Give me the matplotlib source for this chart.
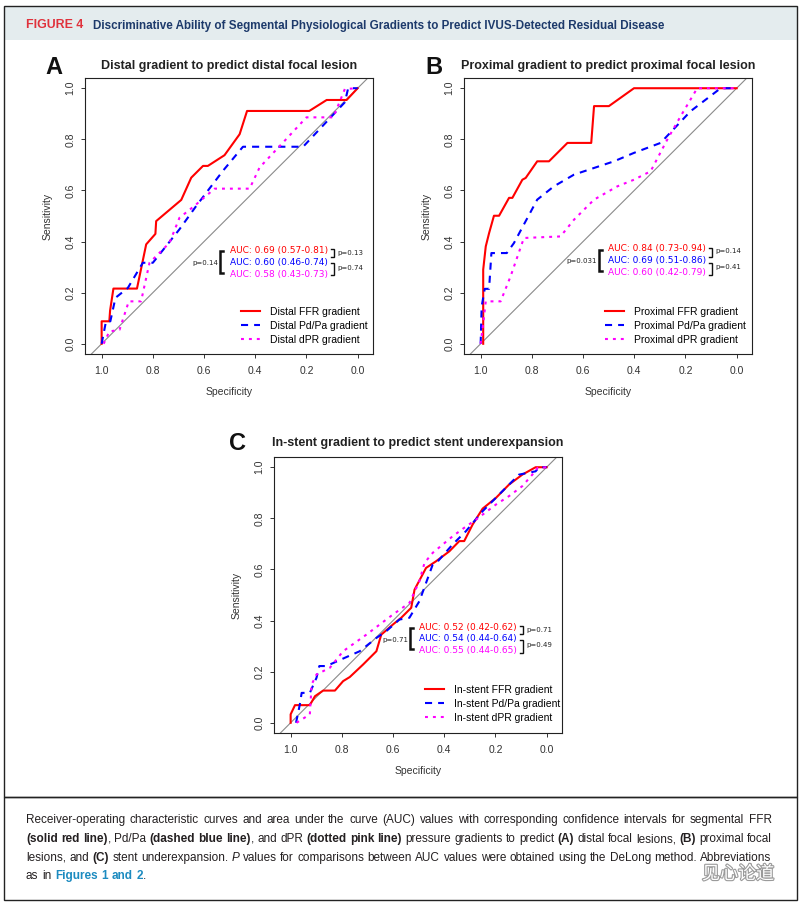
import matplotlib
matplotlib.use("Agg")
import matplotlib.pyplot as plt
from matplotlib.lines import Line2D
from matplotlib.patches import Rectangle
from matplotlib import font_manager
import matplotlib.patheffects as pe

plt.rcParams["font.family"] = ["Liberation Sans", "DejaVu Sans"]

W, H = 803, 905

# ---- data ----
# panel A: distal gradient -> distal focal lesion
a_ffr_spec = [1.0, 1.0, 0.970, 0.967, 0.954, 0.862, 0.826, 0.79, 0.787, 0.689, 0.65, 0.604, 0.585, 0.52, 0.461, 0.432, 0.189, 0.121, 0.043, 0.0]
a_ffr_sens = [0.0, 0.088, 0.088, 0.13, 0.216, 0.216, 0.389, 0.43, 0.48, 0.563, 0.65, 0.696, 0.696, 0.738, 0.82, 0.911, 0.911, 0.954, 0.954, 1.0]
a_pdpa_spec = [1.0, 0.983, 0.966, 0.946, 0.898, 0.839, 0.80, 0.696, 0.63, 0.526, 0.448, 0.213, 0.05, 0.037, 0.0]
a_pdpa_sens = [0.0, 0.088, 0.088, 0.18, 0.218, 0.317, 0.317, 0.448, 0.54, 0.677, 0.771, 0.771, 0.945, 1.0, 1.0]
a_dpr_spec = [0.992, 0.97, 0.93, 0.894, 0.846, 0.813, 0.735, 0.696, 0.637, 0.559, 0.422, 0.383, 0.291, 0.2, 0.095, 0.05, 0.0]
a_dpr_sens = [0.0, 0.048, 0.055, 0.166, 0.166, 0.317, 0.395, 0.493, 0.54, 0.607, 0.607, 0.69, 0.788, 0.886, 0.886, 0.997, 1.0]

# panel B: proximal gradient -> proximal focal lesion
b_ffr_spec = [0.99, 0.99, 0.98, 0.967, 0.948, 0.928, 0.889, 0.876, 0.837, 0.824, 0.779, 0.733, 0.661, 0.568, 0.557, 0.499, 0.401, 0.0]
b_ffr_sens = [0.0, 0.29, 0.381, 0.433, 0.501, 0.501, 0.571, 0.571, 0.642, 0.649, 0.714, 0.714, 0.786, 0.786, 0.93, 0.93, 1.0, 1.0]
b_pdpa_spec = [1.0, 0.996, 0.984, 0.967, 0.958, 0.898, 0.87, 0.779, 0.714, 0.635, 0.479, 0.401, 0.297, 0.18, 0.0625, 0.0]
b_pdpa_sens = [0.0, 0.146, 0.215, 0.215, 0.355, 0.355, 0.394, 0.564, 0.616, 0.662, 0.714, 0.747, 0.786, 0.91, 1.0, 1.0]
b_dpr_spec = [1.0, 0.99, 0.98, 0.922, 0.883, 0.831, 0.688, 0.635, 0.557, 0.466, 0.401, 0.336, 0.271, 0.219, 0.154, 0.0]
b_dpr_sens = [0.0, 0.08, 0.166, 0.166, 0.264, 0.414, 0.42, 0.486, 0.564, 0.616, 0.642, 0.675, 0.799, 0.89, 1.0, 1.0]

# panel C: in-stent gradient -> stent underexpansion
c_ffr_spec = [1.0, 1.0, 0.983, 0.925, 0.905, 0.873, 0.827, 0.795, 0.769, 0.717, 0.665, 0.646, 0.6, 0.568, 0.529, 0.516, 0.471, 0.432, 0.38, 0.341, 0.322, 0.289, 0.25, 0.198, 0.147, 0.095, 0.043, 0.0]
c_ffr_sens = [0.0, 0.033, 0.069, 0.069, 0.104, 0.126, 0.126, 0.163, 0.179, 0.228, 0.28, 0.345, 0.385, 0.411, 0.45, 0.521, 0.606, 0.632, 0.671, 0.711, 0.711, 0.776, 0.838, 0.88, 0.932, 0.971, 1.0, 1.0]
c_pdpa_spec = [0.979, 0.964, 0.957, 0.925, 0.899, 0.888, 0.86, 0.789, 0.73, 0.665, 0.626, 0.575, 0.536, 0.497, 0.445, 0.425, 0.367, 0.315, 0.25, 0.16, 0.108, 0.043, 0.03, 0.0]
c_pdpa_sens = [0.0, 0.072, 0.117, 0.117, 0.176, 0.222, 0.222, 0.254, 0.28, 0.332, 0.359, 0.404, 0.411, 0.476, 0.619, 0.632, 0.698, 0.75, 0.828, 0.919, 0.971, 0.984, 1.0, 1.0]
c_dpr_spec = [0.977, 0.925, 0.918, 0.899, 0.847, 0.795, 0.704, 0.6, 0.536, 0.497, 0.477, 0.445, 0.367, 0.322, 0.276, 0.198, 0.147, 0.095, 0.056, 0.036, 0.0]
c_dpr_sens = [0.0, 0.033, 0.15, 0.189, 0.215, 0.28, 0.345, 0.424, 0.469, 0.554, 0.626, 0.665, 0.73, 0.763, 0.795, 0.854, 0.887, 0.926, 0.971, 0.997, 1.0]

a_labels = ["Distal FFR gradient", "Distal Pd/Pa gradient", "Distal dPR gradient"]
b_labels = ["Proximal FFR gradient", "Proximal Pd/Pa gradient", "Proximal dPR gradient"]
c_labels = ["In-stent FFR gradient", "In-stent Pd/Pa gradient", "In-stent dPR gradient"]

a_auc = ["AUC: 0.69 (0.57-0.81)", "AUC: 0.60 (0.46-0.74)", "AUC: 0.58 (0.43-0.73)"]
b_auc = ["AUC: 0.84 (0.73-0.94)", "AUC: 0.69 (0.51-0.86)", "AUC: 0.60 (0.42-0.79)"]
c_auc = ["AUC: 0.52 (0.42-0.62)", "AUC: 0.54 (0.44-0.64)", "AUC: 0.55 (0.44-0.65)"]
# p values: FFR vs dPR (outer), FFR vs Pd/Pa, Pd/Pa vs dPR
a_p = ["p=0.14", "p=0.13", "p=0.74"]
b_p = ["p=0.031", "p=0.14", "p=0.41"]
c_p = ["p=0.71", "p=0.71", "p=0.49"]

ticks = [1.0, 0.8, 0.6, 0.4, 0.2, 0.0]
tick_labels = ["1.0", "0.8", "0.6", "0.4", "0.2", "0.0"]

colors = ["#ff0000", "#0000ff", "#ff00ff"]


def has_font(name):
    try:
        font_manager.findfont(font_manager.FontProperties(family=name), fallback_to_default=False)
        return True
    except ValueError:
        return False


head_font = "Liberation Sans Narrow" if has_font("Liberation Sans Narrow") else "Liberation Sans"

fig = plt.figure(figsize=(W / 100, H / 100), dpi=100)
renderer = fig.canvas.get_renderer()


def fx(x):
    return x / W


def fy(y):
    return 1 - y / H


def text_width(s, **kw):
    t = fig.text(0, 0, s, **kw)
    w = t.get_window_extent(renderer).width
    t.remove()
    return w


def fit_size(s, width, **kw):
    return 10 * width / text_width(s, fontsize=10, **kw)


# frame + header band
fig.add_artist(Rectangle((fx(4), fy(40)), 793 / W, 34 / H, transform=fig.transFigure,
                         facecolor="#e4ecee", edgecolor="none"))
fig.add_artist(Rectangle((fx(4), fy(797)), 793 / W, 791 / H, transform=fig.transFigure,
                         fill=False, edgecolor="#222222", lw=1.0))
fig.add_artist(Rectangle((fx(4), fy(900)), 793 / W, 103 / H, transform=fig.transFigure,
                         fill=False, edgecolor="#222222", lw=1.0))

fig.text(fx(26), fy(28.5), "FIGURE 4", family="Liberation Sans", weight="bold",
         fontsize=fit_size("FIGURE 4", 57, family="Liberation Sans", weight="bold"),
         color="#e0323c", va="baseline")
head = "Discriminative Ability of Segmental Physiological Gradients to Predict IVUS-Detected Residual Disease"
fig.text(fx(93), fy(28.5), head, family=head_font, weight="bold",
         fontsize=fit_size(head, 567, family=head_font, weight="bold"),
         color="#1d3a6b", va="baseline")

line_styles = [dict(ls="-"), dict(dashes=(3.4, 2.9)), dict(dashes=(1.4, 2.4))]


def roc_panel(box, letter, letter_xy, title, specs, senss, labels, leg):
    l, t, r, b = box
    ax = fig.add_axes([fx(l), fy(b), (r - l) / W, (b - t) / H])
    ax.axline((1, 0), (0, 1), color="#8a8a8a", lw=0.8, zorder=1)
    for sp, se, c, st, lab in zip(specs, senss, colors, line_styles, labels):
        ax.plot(sp, se, color=c, lw=1.5, label=lab, zorder=2, **st)
    ax.set_xlim(1.065, -0.06)
    ax.set_ylim(-0.04, 1.04)
    ax.set_xticks(ticks)
    ax.set_xticklabels(tick_labels)
    ax.set_yticks(ticks)
    ax.set_yticklabels(tick_labels)
    ax.tick_params(direction="out", length=3.2, width=0.7, color="#333333",
                   labelsize=7.5, labelcolor="#333333")
    ax.tick_params(axis="x", pad=5.2)
    ax.tick_params(axis="y", pad=3.8, labelrotation=90)
    for lbl in ax.get_yticklabels():
        lbl.set_va("center")
    for s in ax.spines.values():
        s.set_linewidth(0.8)
        s.set_color("#222222")
    ax.text(0.5, -0.138, "Specificity", transform=ax.transAxes, ha="center", va="center",
            fontsize=7.5, color="#333333")
    ax.text(-0.13, 0.5, "Sensitivity", transform=ax.transAxes, ha="center", va="center",
            rotation=90, fontsize=7.5, color="#333333")
    fig.text(fx((l + r) / 2), fy(66 if t < 100 else 443), title, ha="center", va="center",
             fontsize=9, weight="bold", color="#222222")
    fig.text(fx(letter_xy[0]), fy(letter_xy[1]), letter, ha="center", va="center",
             fontsize=17, weight="bold", color="#111111")
    ax.legend(loc="center left", bbox_to_anchor=(fx(leg[0]), fy(leg[1])),
              bbox_transform=fig.transFigure, frameon=False, borderpad=0, borderaxespad=0,
              fontsize=7.5, handlelength=1.85, handletextpad=0.95, labelspacing=0.38)
    return ax


def bracket(x, y1, y2, arm, lw):
    fig.add_artist(Line2D([fx(x + arm), fx(x), fx(x), fx(x + arm)], [fy(y1), fy(y1), fy(y2), fy(y2)],
                          transform=fig.transFigure, color="#111111", lw=lw,
                          solid_joinstyle="miter"))


def auc_block(aucs, pvals, x_text, ys, lb, rb):
    size = fit_size(aucs[0], 98, family="DejaVu Sans")
    for s, y, c in zip(aucs, ys, colors):
        fig.text(fx(x_text), fy(y), s, color=c, family="DejaVu Sans", fontsize=size,
                 va="center")
    # outer bracket: FFR vs dPR
    bracket(lb[0], lb[1], lb[2], 3.5, 1.8)
    fig.text(fx(lb[0] - 2), fy(lb[3]), pvals[0], ha="right", va="center",
             family="DejaVu Sans", fontsize=5, color="#222222")
    # right brackets
    bracket(rb[0], rb[1], rb[2], -3, 1.0)
    bracket(rb[0], rb[3], rb[4], -3, 1.0)
    fig.text(fx(rb[0] + 3), fy(rb[5]), pvals[1], ha="left", va="center",
             family="DejaVu Sans", fontsize=5, color="#222222")
    fig.text(fx(rb[0] + 3), fy(rb[6]), pvals[2], ha="left", va="center",
             family="DejaVu Sans", fontsize=5, color="#222222")


roc_panel((85, 78, 373, 354), "A", (53.5, 67.5), "Distal gradient to predict distal focal lesion",
          [a_ffr_spec, a_pdpa_spec, a_dpr_spec], [a_ffr_sens, a_pdpa_sens, a_dpr_sens],
          a_labels, (241, 326))
auc_block(a_auc, a_p, 230, [250, 262, 274], (220, 251, 273, 263),
          (334, 249, 257, 263, 275, 253, 268))

roc_panel((464, 78, 752, 354), "B", (434, 67), "Proximal gradient to predict proximal focal lesion",
          [b_ffr_spec, b_pdpa_spec, b_dpr_spec], [b_ffr_sens, b_pdpa_sens, b_dpr_sens],
          b_labels, (605, 326))
auc_block(b_auc, b_p, 608, [248, 260, 272], (599, 250, 271, 261),
          (712, 248, 257, 263, 275, 251, 267))

roc_panel((274, 457, 562, 733), "C", (238, 443), "In-stent gradient to predict stent underexpansion",
          [c_ffr_spec, c_pdpa_spec, c_dpr_spec], [c_ffr_sens, c_pdpa_sens, c_dpr_sens],
          c_labels, (425, 704))
auc_block(c_auc, c_p, 419, [627, 639, 651], (410, 628, 649, 640),
          (523, 626, 634, 640, 653, 630, 645))

# ---- caption (justified, mixed styles) ----
cap_style = {
    "r": dict(color="#231f20"),
    "b": dict(color="#231f20", weight="bold"),
    "i": dict(color="#231f20", style="italic"),
    "l": dict(color="#1c8bc0", weight="bold"),
}
cap_lines = [
    [("Receiver-operating characteristic curves and area under the curve (AUC) values with corresponding confidence intervals for segmental FFR", "r")],
    [("(solid red line)", "b"), (", Pd/Pa ", "r"), ("(dashed blue line)", "b"), (", and dPR ", "r"),
     ("(dotted pink line)", "b"), (" pressure gradients to predict ", "r"), ("(A)", "b"),
     (" distal focal lesions, ", "r"), ("(B)", "b"), (" proximal focal", "r")],
    [("lesions, and ", "r"), ("(C)", "b"), (" stent underexpansion. ", "r"), ("P", "i"),
     (" values for comparisons between AUC values were obtained using the DeLong method. Abbreviations", "r")],
    [("as in ", "r"), ("Figures 1 and 2", "l"), (".", "r")],
]
cap_font = head_font
cap_x0, cap_x1 = 26, 772


def split_words(runs):
    words, cur = [], []
    for text, st in runs:
        for ch in text:
            if ch == " ":
                if cur:
                    words.append(cur)
                    cur = []
            elif cur and cur[-1][1] == st:
                cur[-1][0] += ch
            else:
                cur.append([ch, st])
    if cur:
        words.append(cur)
    return words


def word_widths(words, size):
    return [[text_width(s, family=cap_font, fontsize=size, **cap_style[st]) + 0.4 for s, st in w]
            for w in words]


# font size: balance the three justified lines so none gets very wide or very tight spacing
space10 = text_width("x x", family=cap_font, fontsize=10) - text_width("xx", family=cap_font, fontsize=10)
naturals = []
for runs in cap_lines[:3]:
    words = split_words(runs)
    ws = word_widths(words, 10)
    naturals.append(sum(sum(w) for w in ws) + (len(words) - 1) * space10)
cap_size = 10 * (cap_x1 - cap_x0) / (0.5 * (min(naturals) + max(naturals)))
space_w = space10 * cap_size / 10

for i, (runs, base) in enumerate(zip(cap_lines, [823, 842, 860.5, 879])):
    words = split_words(runs)
    widths = word_widths(words, cap_size)
    total = sum(sum(w) for w in widths)
    if i < 3:
        gap = (cap_x1 - cap_x0 - total) / (len(words) - 1)
    else:
        gap = space_w
    x = cap_x0
    for w, ws in zip(words, widths):
        for (s, st), wd in zip(w, ws):
            fig.text(fx(x), fy(base), s, family=cap_font, fontsize=cap_size, va="baseline",
                     **cap_style[st])
            x += wd
        x += gap

# watermark
fig.text(fx(738), fy(874), "见心论道", family=["Noto Sans CJK SC", "DejaVu Sans"], fontsize=13,
         color="white", ha="center", va="center",
         path_effects=[pe.withStroke(linewidth=1.6, foreground="#9a9a9a")])

fig.savefig("out.png", dpi=100)
